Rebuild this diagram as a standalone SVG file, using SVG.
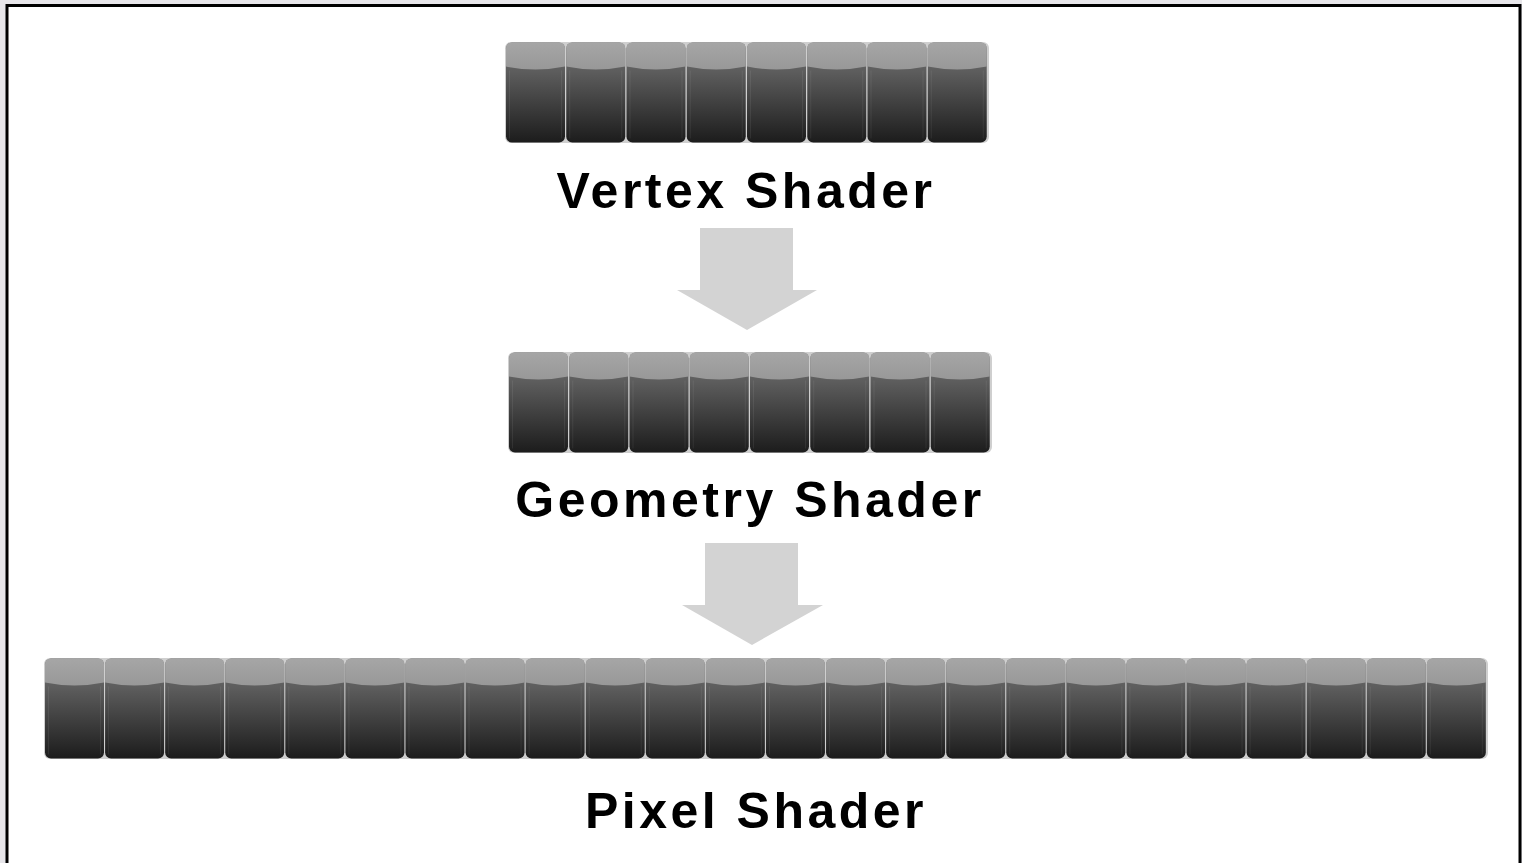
<svg xmlns="http://www.w3.org/2000/svg" xmlns:xlink="http://www.w3.org/1999/xlink" width="1522" height="863" viewBox="0 0 1522 863">
<style>
.lbl{font-family:"Liberation Sans",Arial,sans-serif;font-weight:bold;font-size:50px;letter-spacing:3.5px;fill:#000;text-anchor:middle}
.arrow{fill:#d3d3d3}
</style>
<defs>
<linearGradient id="body" x1="0" y1="0" x2="0" y2="1">
<stop offset="0" stop-color="#727272"/>
<stop offset="0.3" stop-color="#5c5c5c"/>
<stop offset="1" stop-color="#1c1c1c"/>
</linearGradient>
<linearGradient id="cap" x1="0" y1="0" x2="0" y2="1">
<stop offset="0" stop-color="#a6a6a6"/>
<stop offset="1" stop-color="#989898"/>
</linearGradient>
<g id="cell">
<rect x="0" y="0" width="59" height="100" rx="6" fill="url(#body)"/>
<path d="M0,24 L0,6 Q0,0 6,0 L53,0 Q59,0 59,6 L59,24 Q29.5,30 0,24 Z" fill="url(#cap)"/>
<path d="M3.5,28 V96 M55.5,28 V96" stroke="#ffffff" stroke-opacity="0.07" stroke-width="1"/>
</g>
</defs>
<rect x="0" y="0" width="1522" height="863" fill="#e7e6ea"/>
<rect x="7" y="5.5" width="1513" height="900" fill="#ffffff" stroke="#000" stroke-width="3"/>

<g id="connectors">
<path class="arrow" d="M700,228 H793 V290 H817 L747,330 L677,290 H700 Z"/>
<path class="arrow" d="M705,543 H798 V605 H823 L752,645 L682,605 H705 Z"/>
</g>

<g id="vertex-shader">
<rect x="505" y="42" width="484" height="101" rx="6" fill="#cfcfcf"/>
<use xlink:href="#cell" x="506" y="42.5"/>
<use xlink:href="#cell" x="566.25" y="42.5"/>
<use xlink:href="#cell" x="626.5" y="42.5"/>
<use xlink:href="#cell" x="686.75" y="42.5"/>
<use xlink:href="#cell" x="747" y="42.5"/>
<use xlink:href="#cell" x="807.25" y="42.5"/>
<use xlink:href="#cell" x="867.5" y="42.5"/>
<use xlink:href="#cell" x="927.75" y="42.5"/>
<text class="lbl" x="746" y="208">Vertex Shader</text>
</g>

<g id="geometry-shader">
<rect x="508" y="352" width="484" height="101" rx="6" fill="#cfcfcf"/>
<use xlink:href="#cell" x="509" y="352.5"/>
<use xlink:href="#cell" x="569.25" y="352.5"/>
<use xlink:href="#cell" x="629.5" y="352.5"/>
<use xlink:href="#cell" x="689.75" y="352.5"/>
<use xlink:href="#cell" x="750" y="352.5"/>
<use xlink:href="#cell" x="810.25" y="352.5"/>
<use xlink:href="#cell" x="870.5" y="352.5"/>
<use xlink:href="#cell" x="930.75" y="352.5"/>
<text class="lbl" x="750" y="517">Geometry Shader</text>
</g>

<g id="pixel-shader">
<rect x="44" y="658" width="1444" height="101" rx="6" fill="#cfcfcf"/>
<use xlink:href="#cell" x="45" y="658.5"/>
<use xlink:href="#cell" x="105.08" y="658.5"/>
<use xlink:href="#cell" x="165.16" y="658.5"/>
<use xlink:href="#cell" x="225.24" y="658.5"/>
<use xlink:href="#cell" x="285.32" y="658.5"/>
<use xlink:href="#cell" x="345.4" y="658.5"/>
<use xlink:href="#cell" x="405.48" y="658.5"/>
<use xlink:href="#cell" x="465.56" y="658.5"/>
<use xlink:href="#cell" x="525.64" y="658.5"/>
<use xlink:href="#cell" x="585.72" y="658.5"/>
<use xlink:href="#cell" x="645.8" y="658.5"/>
<use xlink:href="#cell" x="705.88" y="658.5"/>
<use xlink:href="#cell" x="765.96" y="658.5"/>
<use xlink:href="#cell" x="826.04" y="658.5"/>
<use xlink:href="#cell" x="886.12" y="658.5"/>
<use xlink:href="#cell" x="946.2" y="658.5"/>
<use xlink:href="#cell" x="1006.28" y="658.5"/>
<use xlink:href="#cell" x="1066.36" y="658.5"/>
<use xlink:href="#cell" x="1126.44" y="658.5"/>
<use xlink:href="#cell" x="1186.52" y="658.5"/>
<use xlink:href="#cell" x="1246.6" y="658.5"/>
<use xlink:href="#cell" x="1306.68" y="658.5"/>
<use xlink:href="#cell" x="1366.76" y="658.5"/>
<use xlink:href="#cell" x="1426.84" y="658.5"/>
<text class="lbl" x="756" y="828">Pixel Shader</text>
</g>
</svg>
